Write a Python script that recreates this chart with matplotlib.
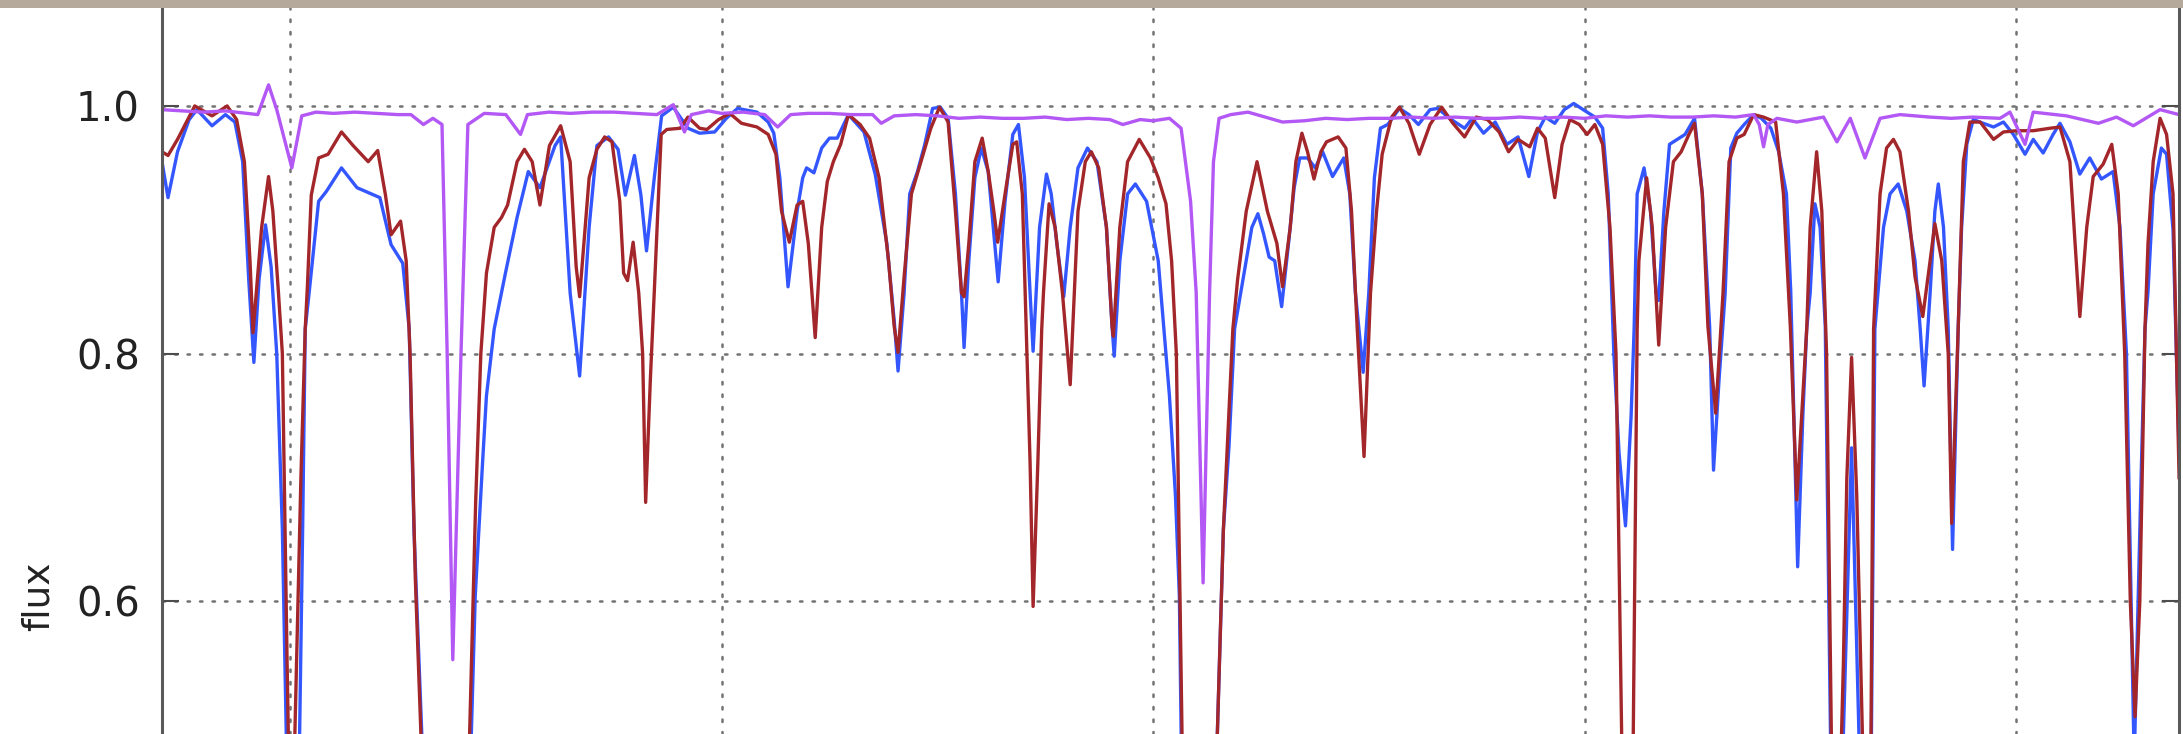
import matplotlib
matplotlib.use("Agg")
import numpy as np
import matplotlib.pyplot as plt
from matplotlib.patches import Rectangle

# spectrum points: (wavelength, normalised flux)
blue = [
    (5970.3, 0.955), (5971.7, 0.926), (5973.9, 0.963), (5976.6, 0.989), (5978.4, 0.997),
    (5981.9, 0.984), (5985.0, 0.993), (5987.2, 0.987), (5989.0, 0.955), (5990.4, 0.86),
    (5991.6, 0.793), (5992.8, 0.86), (5994.3, 0.904), (5995.6, 0.87), (5996.9, 0.80),
    (5998.2, 0.658), (5999.1, 0.493), (6000.6, 0.35), (6002.2, 0.493), (6002.9, 0.658),
    (6003.5, 0.82), (6004.4, 0.849), (6006.6, 0.923), (6008.4, 0.931), (6011.9, 0.950),
    (6015.5, 0.934), (6020.8, 0.926), (6023.4, 0.888), (6026.1, 0.873), (6027.6, 0.82),
    (6028.7, 0.658), (6030.5, 0.493), (6036.0, 0.30), (6042.0, 0.493), (6042.9, 0.604),
    (6044.6, 0.712), (6045.5, 0.766), (6047.3, 0.82), (6049.9, 0.865), (6052.6, 0.910),
    (6055.2, 0.947), (6057.9, 0.934), (6061.4, 0.968), (6062.7, 0.975), (6064.9, 0.849),
    (6067.1, 0.782), (6069.3, 0.902), (6071.1, 0.968), (6073.8, 0.975), (6076.0, 0.965),
    (6077.7, 0.928), (6079.8, 0.960), (6081.3, 0.928), (6082.6, 0.883), (6084.4, 0.942),
    (6086.1, 0.992), (6088.8, 0.999), (6092.2, 0.982), (6094.9, 0.978), (6098.4, 0.979),
    (6101.1, 0.990), (6103.7, 0.998), (6108.2, 0.995), (6110.8, 0.987), (6112.1, 0.978),
    (6113.5, 0.942), (6115.4, 0.854), (6117.5, 0.915), (6118.8, 0.942), (6119.7, 0.950),
    (6121.4, 0.946), (6123.2, 0.966), (6125.0, 0.974), (6126.8, 0.974), (6129.4, 0.993),
    (6133.0, 0.979), (6135.6, 0.945), (6138.3, 0.889), (6140.0, 0.827), (6140.9, 0.786),
    (6142.3, 0.849), (6143.6, 0.929), (6145.4, 0.947), (6147.1, 0.969), (6148.9, 0.998),
    (6150.7, 0.999), (6152.5, 0.990), (6154.2, 0.929), (6155.6, 0.849), (6156.2, 0.805),
    (6157.3, 0.875), (6158.7, 0.942), (6160.2, 0.966), (6161.8, 0.947), (6163.1, 0.897),
    (6164.1, 0.858), (6165.7, 0.923), (6167.5, 0.977), (6168.8, 0.985), (6170.2, 0.942),
    (6171.5, 0.849), (6172.2, 0.802), (6173.7, 0.902), (6175.3, 0.945), (6176.4, 0.929),
    (6177.7, 0.889), (6179.3, 0.846), (6180.8, 0.902), (6182.6, 0.950), (6184.8, 0.966),
    (6187.0, 0.955), (6189.2, 0.902), (6190.5, 0.822), (6191.0, 0.798), (6192.3, 0.875),
    (6194.1, 0.929), (6195.9, 0.937), (6198.5, 0.923), (6201.2, 0.875), (6203.0, 0.80),
    (6203.8, 0.766), (6205.2, 0.685), (6206.1, 0.604), (6206.5, 0.493), (6210.5, 0.30),
    (6214.9, 0.493), (6216.3, 0.658), (6217.6, 0.725), (6218.9, 0.82), (6221.6, 0.875),
    (6222.9, 0.902), (6224.3, 0.913), (6225.6, 0.897), (6226.9, 0.878), (6228.2, 0.875),
    (6229.8, 0.838), (6231.4, 0.889), (6232.7, 0.934), (6234.0, 0.958), (6235.8, 0.958),
    (6237.6, 0.950), (6239.3, 0.963), (6241.6, 0.943), (6244.2, 0.958), (6245.6, 0.929),
    (6246.9, 0.849), (6248.7, 0.785), (6250.0, 0.849), (6251.3, 0.942), (6252.7, 0.982),
    (6254.4, 0.985), (6257.1, 0.998), (6259.3, 0.993), (6261.5, 0.985), (6264.2, 0.997),
    (6266.0, 0.998), (6268.7, 0.990), (6272.2, 0.982), (6274.0, 0.990), (6276.6, 0.978),
    (6279.3, 0.987), (6282.0, 0.969), (6284.6, 0.975), (6287.1, 0.943), (6289.1, 0.979),
    (6290.9, 0.991), (6293.1, 0.986), (6295.3, 0.997), (6297.5, 1.002), (6299.7, 0.997),
    (6302.4, 0.991), (6304.2, 0.982), (6305.5, 0.929), (6306.8, 0.80), (6308.0, 0.72),
    (6309.5, 0.661), (6310.8, 0.75), (6311.5, 0.82), (6312.2, 0.929), (6313.8, 0.950),
    (6315.3, 0.915), (6316.6, 0.849), (6317.2, 0.843), (6318.4, 0.915), (6319.7, 0.969),
    (6321.5, 0.973), (6323.3, 0.977), (6325.5, 0.990), (6327.3, 0.929), (6329.0, 0.822),
    (6329.9, 0.706), (6331.2, 0.78), (6332.6, 0.849), (6333.9, 0.966), (6335.3, 0.978),
    (6337.0, 0.985), (6339.2, 0.993), (6341.0, 0.990), (6343.2, 0.982), (6345.0, 0.963),
    (6346.8, 0.929), (6347.8, 0.85), (6349.4, 0.628), (6350.6, 0.75), (6351.5, 0.82),
    (6352.3, 0.849), (6353.4, 0.921), (6354.6, 0.902), (6355.8, 0.822), (6357.0, 0.493),
    (6358.5, 0.35), (6360.0, 0.493), (6361.9, 0.724), (6363.6, 0.493), (6365.5, 0.35),
    (6366.5, 0.493), (6367.3, 0.82), (6369.3, 0.902), (6370.8, 0.929), (6372.7, 0.937),
    (6374.7, 0.915), (6376.6, 0.875), (6377.8, 0.82), (6378.7, 0.774), (6380.1, 0.849),
    (6381.2, 0.915), (6382.0, 0.937), (6383.2, 0.902), (6384.3, 0.82), (6385.3, 0.642),
    (6386.6, 0.82), (6387.4, 0.902), (6388.6, 0.969), (6390.1, 0.989), (6392.4, 0.986),
    (6394.8, 0.983), (6397.1, 0.987), (6399.4, 0.977), (6402.1, 0.961), (6404.0, 0.973),
    (6406.3, 0.962), (6408.6, 0.977), (6410.2, 0.986), (6412.5, 0.971), (6414.8, 0.945),
    (6417.1, 0.958), (6419.8, 0.941), (6422.5, 0.947), (6424.1, 0.902), (6425.6, 0.80),
    (6427.4, 0.47), (6429.0, 0.70), (6429.9, 0.82), (6430.6, 0.85), (6431.8, 0.929),
    (6433.7, 0.966), (6434.9, 0.961), (6436.4, 0.90), (6437.8, 0.72),
]

red = [
    (5970.3, 0.963), (5971.7, 0.960), (5973.9, 0.973), (5977.9, 1.000), (5981.9, 0.992),
    (5985.4, 1.000), (5987.6, 0.989), (5989.4, 0.955), (5990.7, 0.875), (5991.4, 0.817),
    (5993.4, 0.902), (5995.0, 0.943), (5996.0, 0.915), (5997.3, 0.849), (5998.2, 0.80),
    (5999.3, 0.55), (6000.3, 0.35), (6001.1, 0.493), (6002.5, 0.70), (6003.5, 0.82),
    (6004.0, 0.854), (6004.9, 0.928), (6006.6, 0.958), (6008.8, 0.961), (6011.9, 0.979),
    (6014.6, 0.968), (6018.1, 0.955), (6020.3, 0.964), (6022.1, 0.928), (6023.4, 0.896),
    (6025.6, 0.907), (6026.9, 0.875), (6027.8, 0.80), (6029.0, 0.62), (6030.3, 0.493),
    (6036.0, 0.30), (6041.6, 0.493), (6043.0, 0.68), (6044.2, 0.80), (6045.5, 0.865),
    (6047.3, 0.902), (6049.0, 0.910), (6050.4, 0.920), (6052.6, 0.955), (6054.3, 0.965),
    (6056.1, 0.955), (6057.9, 0.920), (6060.1, 0.968), (6062.7, 0.984), (6064.9, 0.955),
    (6066.3, 0.87), (6067.1, 0.846), (6069.3, 0.942), (6071.1, 0.965), (6072.9, 0.975),
    (6074.6, 0.971), (6076.4, 0.923), (6077.3, 0.865), (6078.2, 0.859), (6079.5, 0.890),
    (6080.8, 0.849), (6081.7, 0.80), (6082.4, 0.680), (6083.5, 0.78), (6084.4, 0.85),
    (6086.0, 0.977), (6087.3, 0.981), (6090.4, 0.982), (6092.2, 0.991), (6094.9, 0.982),
    (6096.6, 0.981), (6099.3, 0.989), (6101.9, 0.994), (6104.6, 0.986), (6108.2, 0.983),
    (6110.8, 0.977), (6112.6, 0.961), (6113.9, 0.915), (6115.7, 0.890), (6117.5, 0.920),
    (6118.8, 0.923), (6120.1, 0.889), (6121.7, 0.813), (6123.2, 0.902), (6124.5, 0.939),
    (6125.9, 0.955), (6127.6, 0.969), (6129.4, 0.993), (6132.1, 0.985), (6134.3, 0.974),
    (6136.5, 0.942), (6138.7, 0.875), (6140.0, 0.822), (6140.9, 0.801), (6142.3, 0.862),
    (6144.0, 0.929), (6146.2, 0.955), (6148.5, 0.982), (6150.5, 0.999), (6152.5, 0.987),
    (6154.2, 0.915), (6155.6, 0.849), (6156.2, 0.846), (6157.3, 0.889), (6158.7, 0.955),
    (6160.4, 0.974), (6161.8, 0.947), (6163.1, 0.915), (6164.0, 0.890), (6165.7, 0.929),
    (6167.5, 0.969), (6168.4, 0.971), (6169.7, 0.929), (6170.6, 0.82), (6171.5, 0.712),
    (6172.2, 0.596), (6173.3, 0.712), (6174.2, 0.82), (6174.6, 0.849), (6175.9, 0.921),
    (6177.3, 0.902), (6179.0, 0.849), (6180.8, 0.775), (6182.6, 0.915), (6184.3, 0.955),
    (6185.7, 0.963), (6187.4, 0.950), (6189.2, 0.902), (6190.5, 0.822), (6190.8, 0.814),
    (6192.3, 0.902), (6194.1, 0.955), (6196.8, 0.973), (6199.4, 0.958), (6201.2, 0.942),
    (6203.0, 0.921), (6204.3, 0.875), (6205.4, 0.80), (6206.7, 0.493), (6210.5, 0.30),
    (6214.9, 0.493), (6216.3, 0.658), (6218.5, 0.82), (6219.6, 0.86), (6221.6, 0.915),
    (6224.1, 0.955), (6226.5, 0.915), (6228.7, 0.889), (6230.0, 0.854), (6231.8, 0.902),
    (6233.1, 0.955), (6234.5, 0.978), (6235.8, 0.963), (6237.3, 0.941), (6238.9, 0.963),
    (6240.2, 0.971), (6242.9, 0.975), (6244.7, 0.966), (6246.0, 0.915), (6247.3, 0.822),
    (6248.9, 0.717), (6250.4, 0.849), (6251.8, 0.915), (6253.1, 0.961), (6255.3, 0.991),
    (6257.1, 0.999), (6259.3, 0.986), (6261.7, 0.961), (6264.2, 0.985), (6266.9, 0.999),
    (6269.5, 0.986), (6272.2, 0.975), (6274.9, 0.991), (6277.5, 0.989), (6280.2, 0.979),
    (6282.4, 0.963), (6284.6, 0.973), (6287.3, 0.967), (6289.1, 0.982), (6290.9, 0.974),
    (6293.1, 0.926), (6294.8, 0.969), (6296.6, 0.989), (6298.8, 0.985), (6300.6, 0.977),
    (6302.4, 0.985), (6304.2, 0.969), (6305.9, 0.902), (6307.3, 0.80), (6308.6, 0.493),
    (6310.0, 0.35), (6311.3, 0.493), (6312.2, 0.82), (6312.6, 0.875), (6314.4, 0.942),
    (6315.7, 0.902), (6317.2, 0.807), (6318.8, 0.902), (6320.6, 0.955), (6322.4, 0.963),
    (6324.2, 0.977), (6325.5, 0.986), (6327.3, 0.929), (6328.6, 0.822), (6330.4, 0.752),
    (6332.1, 0.849), (6333.5, 0.955), (6335.3, 0.974), (6337.0, 0.977), (6339.2, 0.993),
    (6341.5, 0.991), (6344.3, 0.987), (6346.1, 0.929), (6347.7, 0.822), (6349.2, 0.682),
    (6350.5, 0.76), (6351.5, 0.82), (6352.3, 0.902), (6353.8, 0.963), (6355.0, 0.915),
    (6356.1, 0.80), (6357.2, 0.493), (6358.5, 0.35), (6360.0, 0.55), (6360.8, 0.70),
    (6361.9, 0.797), (6363.1, 0.685), (6364.4, 0.493), (6365.5, 0.35), (6366.4, 0.493),
    (6367.0, 0.82), (6368.5, 0.929), (6370.0, 0.966), (6371.6, 0.973), (6373.1, 0.963),
    (6375.1, 0.915), (6376.6, 0.862), (6378.4, 0.830), (6380.1, 0.875), (6381.2, 0.905),
    (6382.8, 0.875), (6384.3, 0.80), (6385.1, 0.663), (6386.6, 0.82), (6387.8, 0.955),
    (6389.3, 0.987), (6391.7, 0.987), (6394.8, 0.973), (6397.1, 0.979), (6400.2, 0.980),
    (6404.0, 0.980), (6407.9, 0.982), (6410.2, 0.983), (6412.5, 0.955), (6413.7, 0.889),
    (6414.8, 0.830), (6416.4, 0.902), (6417.9, 0.943), (6420.2, 0.953), (6422.2, 0.969),
    (6423.7, 0.929), (6425.2, 0.80), (6426.5, 0.60), (6427.6, 0.507), (6428.7, 0.60),
    (6429.9, 0.82), (6430.6, 0.889), (6431.8, 0.955), (6433.4, 0.990), (6434.9, 0.977),
    (6436.4, 0.929), (6437.8, 0.70),
]

purple = [
    (5970.3, 0.997), (5975.0, 0.996), (5980.0, 0.995), (5985.0, 0.996), (5990.0, 0.994),
    (5992.5, 0.993), (5995.0, 1.017), (5996.9, 0.997), (6000.4, 0.950), (6002.7, 0.992),
    (6006.0, 0.995), (6010.0, 0.994), (6015.0, 0.995), (6020.0, 0.994), (6025.0, 0.993),
    (6028.0, 0.993), (6030.9, 0.985), (6033.1, 0.990), (6035.2, 0.985), (6036.4, 0.80),
    (6037.7, 0.553), (6039.6, 0.80), (6041.2, 0.985), (6045.0, 0.994), (6050.0, 0.993),
    (6053.4, 0.977), (6055.0, 0.993), (6060.0, 0.995), (6065.0, 0.994), (6070.0, 0.995),
    (6075.0, 0.995), (6080.0, 0.994), (6085.0, 0.993), (6088.8, 1.001), (6091.4, 0.979),
    (6093.0, 0.993), (6097.0, 0.996), (6100.0, 0.994), (6105.0, 0.995), (6110.0, 0.993),
    (6113.0, 0.983), (6116.0, 0.993), (6120.0, 0.994), (6125.0, 0.994), (6130.0, 0.993),
    (6135.0, 0.993), (6137.0, 0.986), (6140.0, 0.992), (6145.0, 0.993), (6150.0, 0.992),
    (6155.0, 0.990), (6160.0, 0.991), (6165.0, 0.990), (6170.0, 0.990), (6175.0, 0.991),
    (6180.0, 0.989), (6185.0, 0.990), (6190.0, 0.989), (6193.0, 0.985), (6197.0, 0.989),
    (6200.0, 0.988), (6203.8, 0.990), (6206.5, 0.982), (6208.7, 0.923), (6210.0, 0.849),
    (6211.6, 0.615), (6213.1, 0.849), (6214.0, 0.955), (6215.3, 0.990), (6218.0, 0.993),
    (6222.0, 0.995), (6226.0, 0.991), (6230.0, 0.987), (6235.0, 0.988), (6240.0, 0.990),
    (6245.0, 0.989), (6250.0, 0.990), (6255.0, 0.990), (6260.0, 0.991), (6265.0, 0.990),
    (6270.0, 0.991), (6275.0, 0.990), (6280.0, 0.990), (6285.0, 0.991), (6290.0, 0.990),
    (6295.0, 0.991), (6300.0, 0.990), (6305.0, 0.992), (6310.0, 0.991), (6315.0, 0.992),
    (6320.0, 0.991), (6325.0, 0.991), (6330.0, 0.992), (6335.0, 0.991), (6339.2, 0.993),
    (6340.5, 0.985), (6341.5, 0.967), (6342.5, 0.985), (6344.6, 0.990), (6349.2, 0.987),
    (6355.4, 0.991), (6358.5, 0.971), (6361.6, 0.990), (6365.0, 0.958), (6368.5, 0.990),
    (6373.1, 0.993), (6380.0, 0.991), (6385.0, 0.990), (6390.0, 0.991), (6396.3, 0.990),
    (6398.6, 0.995), (6402.1, 0.969), (6404.0, 0.995), (6411.7, 0.992), (6419.1, 0.986),
    (6423.3, 0.991), (6427.2, 0.984), (6433.4, 0.997), (6437.8, 0.993),
]

grid_waves = [6000, 6100, 6200, 6300, 6400]
flux_ticks = [0.6, 0.8, 1.0]
flux_labels = ["0.6", "0.8", "1.0"]

fig = plt.figure(figsize=(21.83, 7.34), dpi=100, facecolor="white")
# beige strip of the photo frame along the top edge
fig.patches.append(Rectangle((0, 0.989), 1, 0.011, transform=fig.transFigure,
                             facecolor="#b4a99b", edgecolor="none", zorder=5))
ax = fig.add_axes([0.0742, 0.0, 0.924, 0.989])
ax.set_facecolor("white")

for pts, col in ((blue, "#3356ff"), (red, "#a3262a"), (purple, "#b357f5")):
    w, f = np.array(pts).T
    ax.plot(w, f, color=col, lw=2.4, solid_joinstyle="round")

ax.set_xlim(5970.3, 6437.8)
ax.set_ylim(0.493, 1.079)
ax.set_xticks(grid_waves)
ax.set_yticks(flux_ticks)
ax.set_yticklabels(flux_labels)
ax.grid(True, color="0.45", linestyle=(0, (1, 4)), lw=1.8, dash_capstyle="round")

ax.tick_params(axis="y", direction="in", length=12, width=1.5, pad=16,
               labelsize=29, labelcolor="#222222", right=True, color="0.3")
ax.tick_params(axis="x", length=0, labelbottom=False)

for side in ("top", "bottom"):
    ax.spines[side].set_visible(False)
for side in ("left", "right"):
    ax.spines[side].set_color("0.35")
    ax.spines[side].set_linewidth(2.2)

ax.set_ylabel("flux", fontsize=27, color="#222222")
ax.yaxis.set_label_coords(-0.052, 0.19)

fig.savefig("out.png", dpi=100, facecolor=fig.get_facecolor())
